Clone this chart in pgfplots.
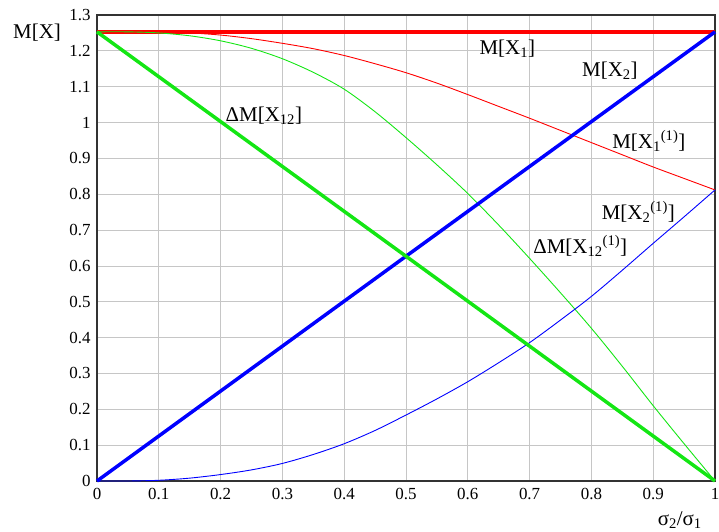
\documentclass[border=0pt]{standalone}
\usepackage{fontspec}
\setmainfont{Liberation Serif}
\usepackage{pgfplots}
\pgfplotsset{compat=1.18}

\definecolor{lime}{RGB}{20,230,20}
\newcommand{\lbl}{\fontsize{21}{21}\selectfont}

\begin{document}
\begin{tikzpicture}
\useasboundingbox (-97bp,-51bp) rectangle (622bp,481bp);
\begin{axis}[
  scale only axis, width=618bp, height=466bp,
  xmin=0, xmax=1, ymin=0, ymax=1.3,
  xtick={0,0.1,...,1}, ytick={0,0.1,...,1.3},
  /pgf/number format/assume math mode=true,
  tick label style={font=\fontsize{17}{17}\selectfont},
  major tick length=0pt,
  grid=major, grid style={gray!45, line width=0.8pt},
  axis line style={black!80, line width=1.2pt},
  xticklabel style={yshift=-4bp},
  yticklabel style={xshift=-3bp},
  clip=false,
]
% M[X1]
\addplot[red, line width=3.5pt] coordinates {(0,1.253) (1,1.253)};
% M[X1^(1)]
\addplot[red, line width=0.9pt, smooth, tension=0.5] coordinates {
(0,1.253) (0.05,1.253) (0.1,1.252) (0.15,1.250) (0.2,1.244) (0.25,1.234) (0.3,1.221)
(0.35,1.206) (0.4,1.187) (0.45,1.164) (0.5,1.139) (0.55,1.110) (0.6,1.078)
(0.65,1.045) (0.7,1.012) (0.75,0.978) (0.8,0.944) (0.85,0.910) (0.9,0.876)
(0.95,0.844) (1,0.812)};
% dM[X12^(1)]
\addplot[lime, line width=0.9pt, smooth, tension=0.5] coordinates {
(0,1.253) (0.05,1.253) (0.1,1.250) (0.15,1.242) (0.2,1.228) (0.25,1.207)
(0.3,1.178) (0.35,1.140) (0.4,1.093) (0.45,1.030) (0.5,0.958) (0.55,0.882)
(0.6,0.802) (0.65,0.714) (0.7,0.621) (0.75,0.525) (0.8,0.426) (0.85,0.320)
(0.9,0.210) (0.95,0.104) (1,0)};
% M[X2^(1)]
\addplot[blue, line width=0.9pt, smooth, tension=0.5] coordinates {
(0,0) (0.05,0) (0.1,0.002) (0.15,0.008) (0.2,0.018) (0.25,0.031) (0.3,0.049)
(0.35,0.074) (0.4,0.104) (0.45,0.141) (0.5,0.184) (0.55,0.229) (0.6,0.277)
(0.65,0.330) (0.7,0.386) (0.75,0.449) (0.8,0.515) (0.85,0.588) (0.9,0.663)
(0.95,0.737) (1,0.812)};
% M[X2]
\addplot[blue, line width=3.5pt] coordinates {(0,0) (0.5,0.627) (1,1.253)};
% dM[X12]
\addplot[lime, line width=3.5pt] coordinates {(0,1.253) (0.5,0.627) (1,0)};

\node[font=\lbl] at (axis cs:-0.097,1.25) {M[X]};
\node[font=\lbl] at (axis cs:0.943,-0.109) {σ\textsubscript{2}/σ\textsubscript{1}};
\node[font=\lbl] at (axis cs:0.270,1.018) {ΔM[X\textsubscript{12}]};
\node[font=\lbl] at (axis cs:0.664,1.205) {M[X\textsubscript{1}]};
\node[font=\lbl] at (axis cs:0.830,1.144) {M[X\textsubscript{2}]};
\node[font=\lbl] at (axis cs:0.893,0.948) {M[X\textsubscript{1}\textsuperscript{(1)}]};
\node[font=\lbl] at (axis cs:0.876,0.750) {M[X\textsubscript{2}\textsuperscript{(1)}]};
\node[font=\lbl] at (axis cs:0.782,0.656) {ΔM[X\textsubscript{12}\textsuperscript{(1)}]};
\end{axis}
\end{tikzpicture}
\end{document}
